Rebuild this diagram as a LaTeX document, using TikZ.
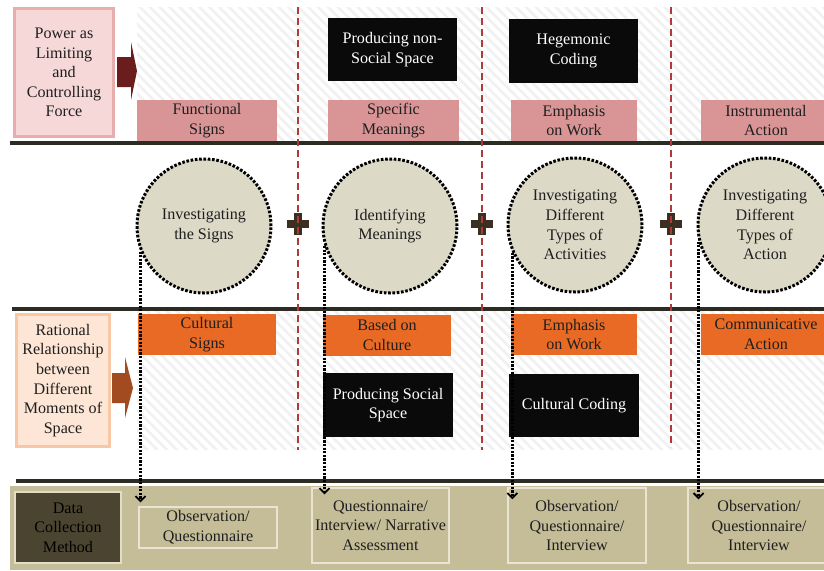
\documentclass[tikz,border=0pt]{standalone}
\usepackage{fontspec}
\setmainfont{Liberation Serif}
\usetikzlibrary{arrows.meta,patterns.meta,calc}
\definecolor{txt}{HTML}{1F1F1F}
\definecolor{pinkc}{HTML}{D99595}
\definecolor{powfill}{HTML}{F6D8D8}
\definecolor{powdraw}{HTML}{E8AEAE}
\definecolor{arrowA}{HTML}{6B1D1D}
\definecolor{orangec}{HTML}{E86A25}
\definecolor{peachfill}{HTML}{FDE6D5}
\definecolor{peachdraw}{HTML}{F8C8A6}
\definecolor{arrowB}{HTML}{A24A20}
\definecolor{circfill}{HTML}{DCD9C7}
\definecolor{khaki}{HTML}{C5BD98}
\definecolor{qdraw}{HTML}{E9E5D2}
\definecolor{dcfill}{HTML}{4B4430}
\definecolor{reddash}{HTML}{B03A3A}
\definecolor{thickc}{HTML}{2C2B24}
\definecolor{plusc}{HTML}{3B2F22}
\definecolor{hatchc}{HTML}{F1F1F1}
\definecolor{blackc}{HTML}{0A0A0A}
\begin{document}
\begin{tikzpicture}[x=1pt,y=-1pt,
  every node/.style={font=\fontsize{16.1}{19.6}\selectfont, align=center, inner sep=0pt, text=txt},
  pinkbox/.style={fill=pinkc},
  orangebox/.style={fill=orangec},
  blackbox/.style={fill=blackc, text=white},
  circ/.style={circle, fill=circfill, draw=black, line width=3pt, dash pattern=on 2.6pt off 1.7pt, minimum size=134pt},
  qbox/.style={fill=khaki, draw=qdraw, line width=1.4pt},
  hatch/.style={fill=white, postaction={pattern={Lines[angle=-45,distance=7pt,line width=2.6pt]}, pattern color=hatchc}},
  thickline/.style={draw=thickc, line width=3.2pt},
  redline/.style={draw=reddash, line width=1.5pt, dash pattern=on 7pt off 4pt},
  conn/.style={draw=black, line width=2.4pt, dash pattern=on 2.2pt off 1.4pt, -{Straight Barb[length=5pt,width=10pt,line width=1.8pt]}}
]
\useasboundingbox (0,0) rectangle (824,570);
\fill[white] (0,0) rectangle (824,570);

% hatched backgrounds
\path[hatch] (137,7) rectangle (824,142);
\path[hatch] (137,310) rectangle (824,449);

% bottom band
\fill[khaki] (10,486) rectangle (830,570);

% thick horizontal lines
\coordinate (h1a) at (10,143);  \coordinate (h1b) at (830,143);
\coordinate (h2a) at (12,309);  \coordinate (h2b) at (830,309);
\coordinate (h3a) at (16,481);  \coordinate (h3b) at (830,481);
\draw[thickline] (h1a) -- (h1b);
\draw[thickline] (h2a) -- (h2b);
\draw[thickline] (h3a) -- (h3b);

% left boxes and block arrows
\node[fill=powfill, draw=powdraw, line width=3.4pt, minimum width=99pt, minimum height=128pt] (pw) at (64,72.5) {Power as\\Limiting\\and\\Controlling\\Force};
\fill[arrowA] (117,57) -- (131,57) -- (131,42) -- (137,71) -- (131,100) -- (131,87) -- (117,87) -- cycle;

\node[fill=peachfill, draw=peachdraw, line width=3.4pt, minimum width=93pt, minimum height=132pt] (rr) at (63,380.5) {Rational\\Relationship\\between\\Different\\Moments of\\Space};
\fill[arrowB] (112,373) -- (125,373) -- (125,357) -- (133,388) -- (125,418) -- (125,403) -- (112,403) -- cycle;

% top row
\node[blackbox, minimum width=129pt, minimum height=63pt] (ns) at (392.5,49.5) {Producing non-\\Social Space};
\node[blackbox, minimum width=129pt, minimum height=64pt] (hc) at (573.5,51) {Hegemonic\\Coding};
\node[pinkbox, minimum width=140pt, minimum height=41pt] (fs) at (207,120.5) {Functional\\Signs};
\node[pinkbox, minimum width=131pt, minimum height=41pt] (sm) at (393.5,120.5) {Specific\\Meanings};
\node[pinkbox, minimum width=126pt, minimum height=41pt] (ew1) at (574,120.5) {Emphasis\\on Work};
\node[pinkbox, minimum width=130pt, minimum height=41pt] (ia) at (766,120.5) {Instrumental\\Action};

% circles
\node[circ] (c1) at (204,226) {Investigating\\the Signs};
\node[circ] (c2) at (390,226) {Identifying\\Meanings};
\node[circ] (c3) at (575,225) {Investigating\\Different\\Types of\\Activities};
\node[circ] (c4) at (765,225) {Investigating\\Different\\Types of\\Action};

% plus signs
\foreach \n/\px in {p1/298, p2/482, p3/671}{
  \coordinate (\n) at (\px,224);
  \fill[plusc] ($(\n)+(-11,-3.6)$) rectangle ($(\n)+(11,3.6)$);
  \fill[plusc] ($(\n)+(-3.6,-11)$) rectangle ($(\n)+(3.6,11)$);
}

% lower row
\node[orangebox, minimum width=138pt, minimum height=41pt] (cs) at (207,334.5) {Cultural\\Signs};
\node[orangebox, minimum width=128pt, minimum height=41pt] (bc) at (387,335) {Based on\\Culture};
\node[orangebox, minimum width=126pt, minimum height=41pt] (ew2) at (574,334.5) {Emphasis\\on Work};
\node[orangebox, minimum width=130pt, minimum height=41pt] (ca) at (766,334.5) {Communicative\\Action};
\node[blackbox, minimum width=130pt, minimum height=64pt] (ps) at (388,405) {Producing Social\\Space};
\node[blackbox, minimum width=130pt, minimum height=63pt] (cc) at (574,405.5) {Cultural Coding};

% red dashed separators
\coordinate (d1t) at (298,7);  \coordinate (d1b) at (298,450);
\coordinate (d2t) at (482,7);  \coordinate (d2b) at (482,450);
\coordinate (d3t) at (671,7);  \coordinate (d3b) at (671,447);
\draw[redline] (d1t) -- (d1b);
\draw[redline] (d2t) -- (d2b);
\draw[redline] (d3t) -- (d3b);

% data collection row
\node[fill=dcfill, draw=qdraw!80!khaki, line width=1.2pt, minimum width=106pt, minimum height=71pt, text=black] (dc) at (68,527.5) {Data\\Collection\\Method};
\node[qbox, minimum width=138pt, minimum height=41pt] (q1) at (208,527.5) {Observation/\\Questionnaire};
\node[qbox, minimum width=137pt, minimum height=75pt] (q2) at (380.5,525.5) {Questionnaire/\\Interview/ Narrative\\Assessment};
\node[qbox, minimum width=138pt, minimum height=75pt] (q3) at (577,525.5) {Observation/\\Questionnaire/\\Interview};
\node[qbox, minimum width=142pt, minimum height=75pt] (q4) at (759,525.5) {Observation/\\Questionnaire/\\Interview};

% dotted connectors
\draw[conn] (c1.202) -- ($(c1.202 |- q1.north)+(0,-4)$);
\draw[conn] (c2.197) -- ($(c2.197 |- q2.north)+(0,7)$);
\draw[conn] (c3.204) -- ($(c3.204 |- q3.north)+(0,12)$);
\draw[conn] (c4.194) -- ($(c4.194 |- q4.north)+(0,12)$);
\end{tikzpicture}
\end{document}
